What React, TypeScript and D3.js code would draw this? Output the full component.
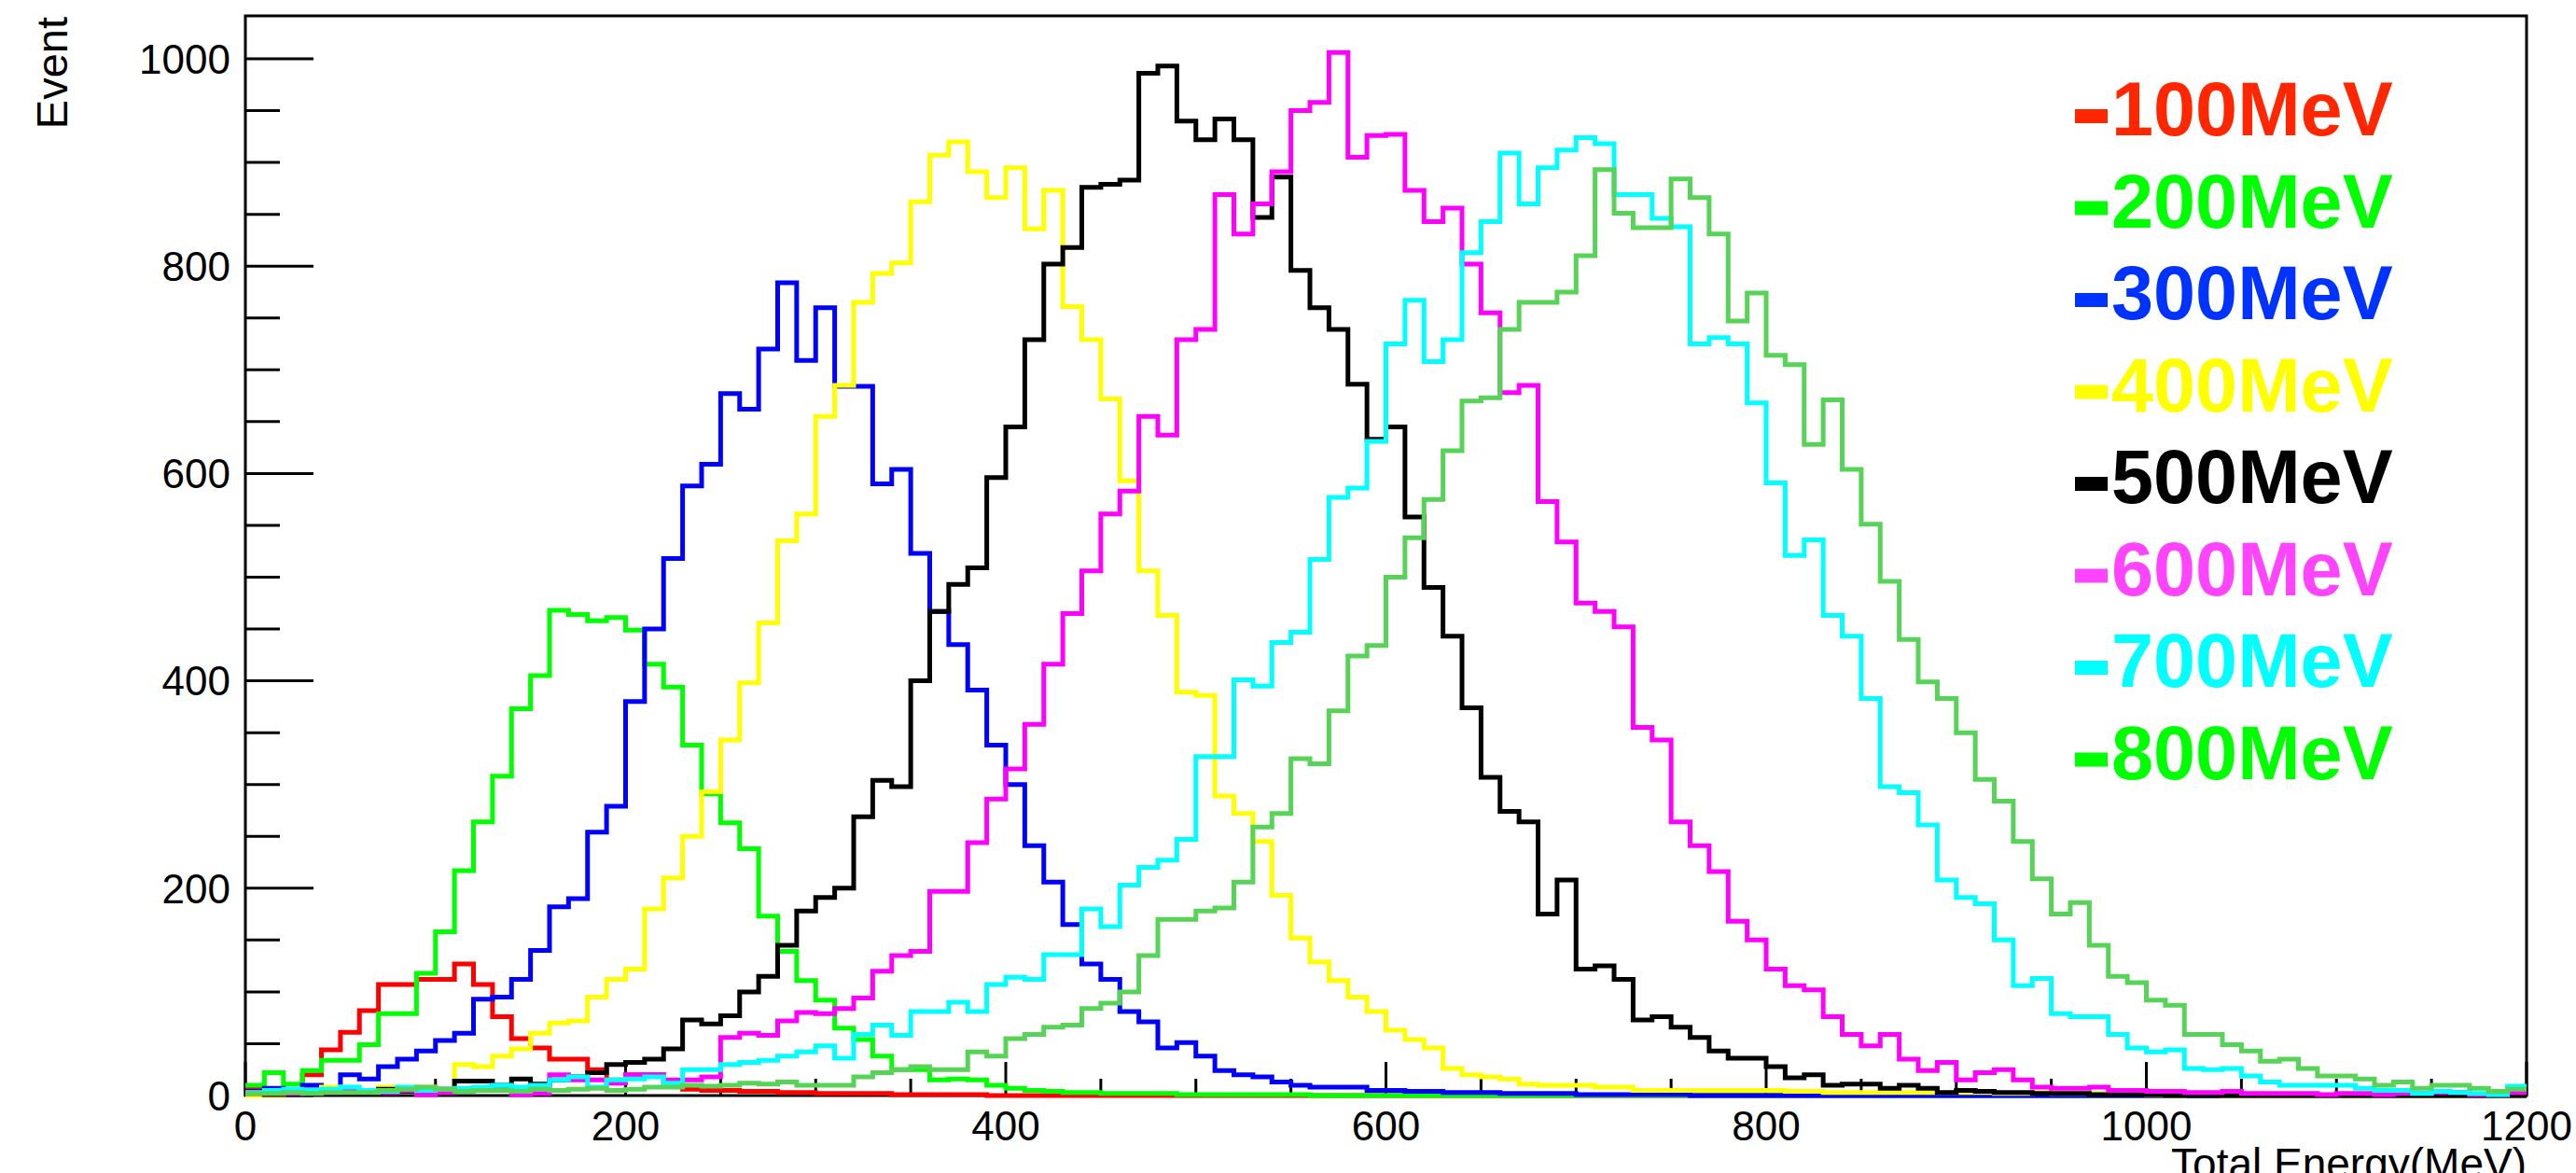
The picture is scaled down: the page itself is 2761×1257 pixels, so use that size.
import React from "react";
import * as d3 from "d3";

// ---- data: 120 bins of 10 MeV from 0 to 1200 MeV ----
const BIN_WIDTH = 10;
const X_MIN = 0;
const X_MAX = 1200;
const Y_MAX = 1041.4;

const e100 = [
  6, 4, 3, 20, 44, 61, 82, 107, 107, 112,
  112, 127, 107, 76, 55, 46, 35, 35, 25, 15,
  20, 20, 10, 6, 5, 5, 4, 4, 3, 3,
  2, 2, 2, 2, 1, 1, 1, 1, 1, 0,
  0, 0, 0, 0, 0, 0, 0, 0, 0, 0,
  0, 0, 0, 0, 0, 0, 0, 0, 0, 0,
  0, 0, 0, 0, 0, 0, 0, 0, 0, 0,
  0, 0, 0, 0, 0, 0, 0, 0, 0, 0,
  0, 0, 0, 0, 0, 0, 0, 0, 0, 0,
  0, 0, 0, 0, 0, 0, 0, 0, 0, 0,
  0, 0, 0, 0, 0, 0, 0, 0, 0, 0,
  0, 0, 0, 0, 0, 0, 0, 0, 0, 0,
];

const e200 = [
  10, 22, 11, 24, 34, 34, 49, 79, 79, 118,
  158, 217, 264, 308, 373, 405, 468, 464, 458, 461,
  449, 416, 394, 338, 291, 263, 238, 173, 139, 111,
  92, 65, 54, 38, 25, 25, 15, 16, 15, 10,
  7, 5, 4, 3, 3, 2, 2, 2, 2, 1,
  1, 1, 1, 1, 1, 1, 0, 0, 0, 0,
  0, 0, 0, 0, 0, 0, 0, 0, 0, 0,
  0, 0, 0, 0, 0, 0, 0, 0, 0, 0,
  0, 0, 0, 0, 0, 0, 0, 0, 0, 0,
  0, 0, 0, 0, 0, 0, 0, 0, 0, 0,
  0, 0, 0, 0, 0, 0, 0, 0, 0, 0,
  0, 0, 0, 0, 0, 0, 0, 0, 0, 0,
];

const e300 = [
  4, 7, 3, 10, 4, 20, 16, 28, 35, 43,
  53, 60, 93, 95, 112, 140, 182, 190, 254, 279,
  380, 450, 518, 588, 609, 677, 662, 720, 784, 709,
  760, 684, 684, 590, 604, 523, 467, 435, 391, 338,
  300, 241, 206, 165, 127, 112, 81, 71, 46, 51,
  38, 24, 20, 18, 13, 10, 8, 8, 8, 5,
  5, 4, 4, 3, 3, 3, 2, 2, 2, 2,
  1, 1, 1, 1, 1, 1, 0, 0, 0, 0,
  0, 0, 0, 0, 0, 0, 0, 0, 0, 0,
  0, 0, 0, 0, 0, 0, 0, 0, 0, 0,
  0, 0, 0, 0, 0, 0, 0, 0, 0, 0,
  0, 0, 0, 0, 0, 0, 0, 0, 0, 0,
];

const e400 = [
  0, 0, 3, 5, 8, 5, 4, 8, 6, 8,
  6, 30, 28, 38, 45, 60, 70, 72, 95, 112,
  122, 180, 210, 250, 293, 343, 398, 456, 535, 561,
  655, 685, 765, 793, 803, 862, 907, 920, 891, 866,
  895, 836, 873, 761, 729, 672, 593, 506, 463, 389,
  386, 289, 272, 245, 193, 152, 129, 111, 95, 81,
  63, 54, 46, 26, 20, 18, 16, 11, 10, 10,
  10, 8, 8, 5, 5, 5, 5, 5, 5, 5,
  5, 4, 4, 3, 3, 3, 3, 3, 3, 3,
  3, 3, 2, 2, 3, 2, 2, 2, 2, 2,
  1, 0, 1, 1, 0, 0, 0, 0, 0, 0,
  0, 0, 0, 0, 0, 0, 0, 0, 0, 0,
];

const e500 = [
  2, 1, 2, 3, 3, 4, 5, 6, 4, 5,
  6, 14, 14, 10, 16, 11, 15, 18, 22, 30,
  32, 35, 45, 73, 69, 77, 100, 115, 145, 178,
  191, 200, 269, 304, 298, 400, 467, 493, 509, 596,
  645, 729, 802, 818, 876, 879, 883, 986, 993, 940,
  922, 942, 922, 847, 886, 796, 760, 739, 686, 633,
  645, 558, 490, 443, 374, 307, 274, 264, 175, 208,
  122, 125, 112, 73, 76, 66, 56, 43, 36, 36,
  28, 17, 20, 10, 11, 11, 7, 10, 7, 3,
  5, 4, 3, 3, 2, 2, 2, 1, 1, 1,
  1, 0, 0, 0, 0, 0, 0, 0, 0, 0,
  0, 0, 0, 0, 0, 0, 0, 0, 0, 0,
];

const e600 = [
  3, 2, 2, 4, 3, 5, 4, 3, 5, 1,
  3, 5, 5, 5, 1, 2, 20, 15, 15, 12,
  20, 20, 15, 15, 18, 56, 60, 58, 72, 80,
  79, 84, 94, 120, 135, 139, 197, 197, 244, 286,
  315, 358, 416, 465, 506, 561, 583, 655, 637, 729,
  739, 869, 831, 860, 891, 950, 958, 1006, 905, 926,
  927, 873, 843, 856, 802, 755, 678, 685, 573, 534,
  475, 467, 452, 355, 343, 264, 241, 216, 168, 150,
  122, 106, 102, 76, 59, 48, 59, 35, 24, 32,
  15, 22, 25, 15, 8, 7, 7, 8, 5, 5,
  4, 4, 3, 3, 4, 2, 2, 2, 2, 1,
  2, 2, 1, 2, 2, 3, 3, 1, 1, 3,
];

const e700 = [
  3, 5, 6, 5, 6, 8, 5, 4, 8, 5,
  6, 7, 8, 10, 8, 10, 15, 18, 8, 15,
  16, 18, 12, 25, 25, 30, 32, 34, 38, 42,
  48, 36, 59, 68, 58, 81, 81, 90, 81, 107,
  114, 112, 136, 136, 180, 163, 203, 220, 227, 247,
  327, 327, 401, 395, 437, 447, 517, 577, 586, 631,
  725, 767, 708, 729, 813, 843, 909, 860, 895, 912,
  924, 918, 869, 869, 846, 838, 725, 731, 725, 668,
  591, 521, 536, 463, 443, 383, 298, 292, 261, 208,
  191, 185, 150, 106, 113, 79, 76, 76, 59, 46,
  42, 44, 26, 25, 26, 19, 13, 10, 10, 10,
  10, 7, 5, 5, 2, 4, 3, 2, 1, 9,
];

const e800 = [
  2, 2, 3, 2, 3, 3, 3, 5, 6, 8,
  6, 4, 5, 5, 4, 6, 5, 6, 7, 5,
  6, 8, 8, 10, 9, 10, 12, 11, 13, 10,
  10, 10, 18, 22, 25, 28, 25, 25, 42, 38,
  55, 59, 66, 68, 84, 89, 100, 135, 170, 170,
  178, 181, 206, 259, 272, 325, 320, 371, 424, 434,
  500, 538, 575, 622, 670, 673, 739, 765, 765, 775,
  810, 893, 851, 837, 837, 884, 866, 831, 747, 774,
  714, 705, 628, 671, 604, 551, 496, 440, 399, 383,
  350, 305, 284, 245, 209, 175, 186, 145, 115, 109,
  92, 87, 59, 59, 49, 43, 33, 35, 26, 19,
  19, 16, 10, 13, 7, 10, 10, 7, 4, 6,
];

const seriesLabels = ["100MeV", "200MeV", "300MeV", "400MeV", "500MeV", "600MeV", "700MeV", "800MeV"];
const seriesValues = [e100, e200, e300, e400, e500, e600, e700, e800];
const lineColors = ["#ff0000", "#00ff00", "#0000ff", "#ffff00", "#000000", "#ff00ff", "#00ffff", "#57d357"];
const legendColors = ["#ff2600", "#00ff00", "#0033ff", "#ffff00", "#000000", "#ff44ff", "#00ffff", "#00ff00"];

const xMajorTicks = [0, 200, 400, 600, 800, 1000, 1200];
const yMajorTicks = [0, 200, 400, 600, 800, 1000];
const MINOR_STEP = 50;

const xTitle = "Total Energy(MeV)";
const yTitle = "Event";

// ---- layout ----
const W = 2761;
const H = 1257;
const FRAME = { left: 263, right: 2708, top: 17, bottom: 1174 };
const FONT = "'Liberation Sans', Arial, Helvetica, sans-serif";

export default function App() {
  const x = d3.scaleLinear().domain([X_MIN, X_MAX]).range([FRAME.left, FRAME.right]);
  const y = d3.scaleLinear().domain([0, Y_MAX]).range([FRAME.bottom, FRAME.top]);

  const line = d3
    .line<[number, number]>()
    .x((d) => x(d[0]))
    .y((d) => y(d[1]))
    .curve(d3.curveStepAfter);

  const pathFor = (vals: number[]) => {
    const pts: [number, number][] = vals.map((v, i) => [X_MIN + i * BIN_WIDTH, v]);
    pts.push([X_MIN + vals.length * BIN_WIDTH, vals[vals.length - 1]]);
    return line(pts) || "";
  };

  const xMinor = d3.range(X_MIN, X_MAX + 1, MINOR_STEP).filter((v) => !xMajorTicks.includes(v));
  const yMinor = d3.range(0, Y_MAX, MINOR_STEP).filter((v) => !yMajorTicks.includes(v));

  const yMajorLen = 73;
  const yMinorLen = 37;
  const xMajorLen = 36;
  const xMinorLen = 18;

  return (
    <div style={{ position: "absolute", left: 0, top: 0 }}>
      <svg width={W} height={H} style={{ display: "block", background: "#fff" }}>
        <rect x={0} y={0} width={W} height={H} fill="#fff" />
        {/* frame */}
        <rect
          x={FRAME.left}
          y={FRAME.top}
          width={FRAME.right - FRAME.left}
          height={FRAME.bottom - FRAME.top}
          fill="none"
          stroke="#000"
          strokeWidth={3}
        />
        {/* y ticks */}
        {yMajorTicks.map((t) => (
          <line key={"ym" + t} x1={FRAME.left} x2={FRAME.left + yMajorLen} y1={y(t)} y2={y(t)} stroke="#000" strokeWidth={3} />
        ))}
        {yMinor.map((t) => (
          <line key={"yn" + t} x1={FRAME.left} x2={FRAME.left + yMinorLen} y1={y(t)} y2={y(t)} stroke="#000" strokeWidth={3} />
        ))}
        {/* x ticks */}
        {xMajorTicks.map((t) => (
          <line key={"xm" + t} x1={x(t)} x2={x(t)} y1={FRAME.bottom} y2={FRAME.bottom - xMajorLen} stroke="#000" strokeWidth={3} />
        ))}
        {xMinor.map((t) => (
          <line key={"xn" + t} x1={x(t)} x2={x(t)} y1={FRAME.bottom} y2={FRAME.bottom - xMinorLen} stroke="#000" strokeWidth={3} />
        ))}
        {/* tick labels */}
        {yMajorTicks.map((t) => (
          <text
            key={"yl" + t}
            x={247}
            y={y(t)}
            dy="0.36em"
            textAnchor="end"
            fontFamily={FONT}
            fontSize={44}
            fill="#000"
          >
            {t}
          </text>
        ))}
        {xMajorTicks.map((t) => (
          <text key={"xl" + t} x={x(t)} y={1222} textAnchor="middle" fontFamily={FONT} fontSize={44} fill="#000">
            {t}
          </text>
        ))}
        {/* axis titles */}
        <text
          transform={`translate(72,18) rotate(-90)`}
          textAnchor="end"
          fontFamily={FONT}
          fontSize={47}
          fill="#000"
        >
          {yTitle}
        </text>
        <text x={FRAME.right} y={1263} textAnchor="end" fontFamily={FONT} fontSize={46} fill="#000">
          {xTitle}
        </text>
        {/* histograms */}
        {seriesValues.map((vals, i) => (
          <path
            key={"h" + i}
            d={pathFor(vals)}
            fill="none"
            stroke={lineColors[i]}
            strokeWidth={5}
            strokeLinejoin="miter"
          />
        ))}
        {/* legend */}
        {seriesLabels.map((lab, i) => {
          const base = 145 + i * 98.5;
          return (
            <g key={"lg" + i}>
              <rect x={2224} y={base - 28} width={35} height={15} fill={legendColors[i]} />
              <text x={2263} y={base} fontFamily={FONT} fontWeight="bold" fontSize={81} fill={legendColors[i]}>
                {lab}
              </text>
            </g>
          );
        })}
      </svg>
    </div>
  );
}
